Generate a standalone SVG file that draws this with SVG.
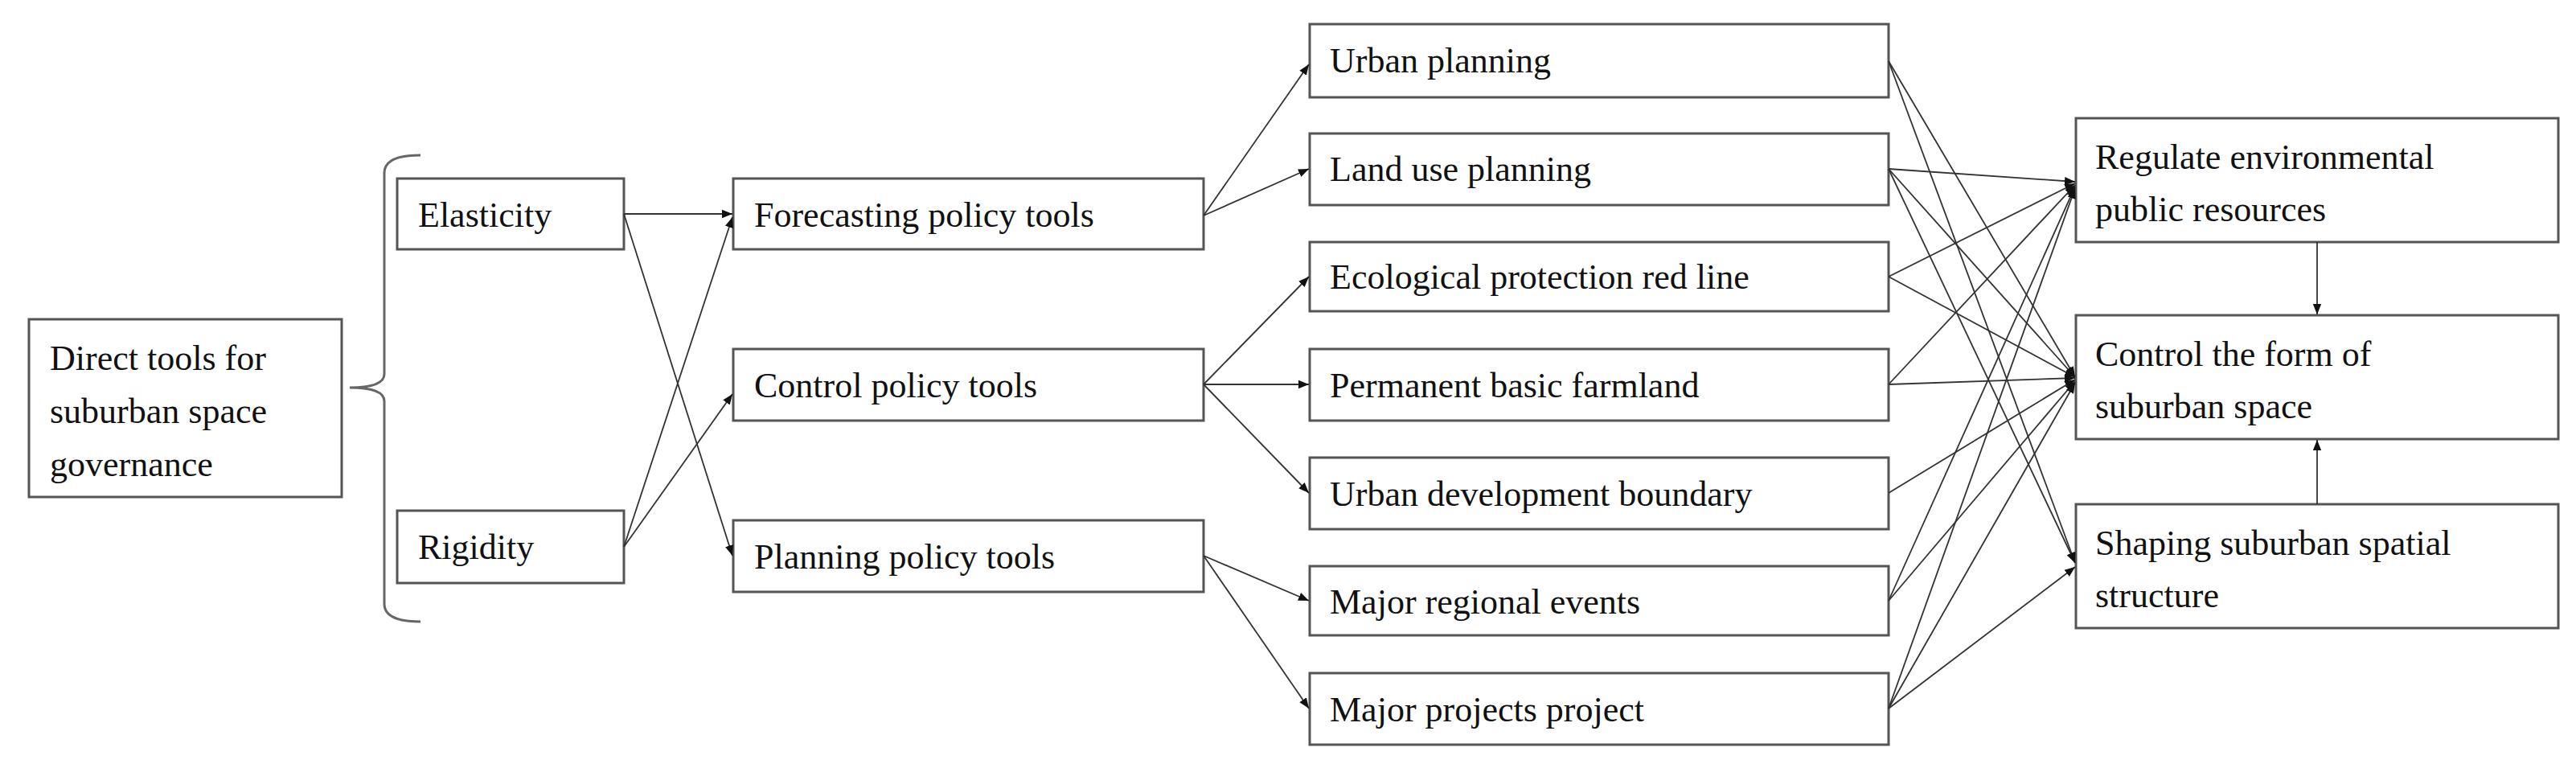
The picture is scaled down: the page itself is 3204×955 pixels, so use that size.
<svg xmlns="http://www.w3.org/2000/svg" width="3204" height="955" viewBox="0 0 3204 955">
<style>
rect{fill:#fff;stroke:#555;stroke-width:3}
text{font-family:"Liberation Serif",serif;font-size:44px;fill:#111}
.c line{stroke:#333;stroke-width:1.8;marker-end:url(#a)}
</style>
<defs><marker id="a" viewBox="0 0 10 10" refX="10" refY="5" markerWidth="13" markerHeight="13" markerUnits="userSpaceOnUse" orient="auto"><path d="M0,1L10,5L0,9z" fill="#111"/></marker>
<marker id="b" viewBox="0 0 10 10" refX="10" refY="5" markerWidth="18" markerHeight="18" markerUnits="userSpaceOnUse" orient="auto"><path d="M0,0L10,5L0,10z" fill="#111"/></marker></defs>
<rect width="3204" height="955" style="fill:#fff;stroke:none"/>
<g id="direct"><rect x="36" y="397" width="389" height="221"/><text x="62" y="460">Direct tools for</text><text x="62" y="526">suburban space</text><text x="62" y="592">governance</text></g>
<path d="M523,193 Q478,193 478,215 L478,465 Q478,482 435,482 Q478,482 478,499 L478,751 Q478,773 523,773" fill="none" stroke="#666" stroke-width="3"/>
<g id="elasticity"><rect x="494" y="222" width="282" height="88"/><text x="520" y="282">Elasticity</text></g>
<g id="rigidity"><rect x="494" y="635" width="282" height="90"/><text x="520" y="695">Rigidity</text></g>
<g id="forecasting"><rect x="912" y="222" width="585" height="88"/><text x="938" y="282">Forecasting policy tools</text></g>
<g id="controlp"><rect x="912" y="434" width="585" height="89"/><text x="938" y="494">Control policy tools</text></g>
<g id="planning"><rect x="912" y="647" width="585" height="89"/><text x="938" y="707">Planning policy tools</text></g>
<g id="up"><rect x="1629" y="30" width="720" height="91"/><text x="1654" y="90">Urban planning</text></g>
<g id="lu"><rect x="1629" y="166" width="720" height="89"/><text x="1654" y="225">Land use planning</text></g>
<g id="eco"><rect x="1629" y="301" width="720" height="86"/><text x="1654" y="359">Ecological protection red line</text></g>
<g id="perm"><rect x="1629" y="434" width="720" height="89"/><text x="1654" y="494">Permanent basic farmland</text></g>
<g id="udb"><rect x="1629" y="569" width="720" height="89"/><text x="1654" y="629">Urban development boundary</text></g>
<g id="mre"><rect x="1629" y="704" width="720" height="86"/><text x="1654" y="763">Major regional events</text></g>
<g id="mpp"><rect x="1629" y="837" width="720" height="89"/><text x="1654" y="897">Major projects project</text></g>
<g id="reg"><rect x="2582" y="147" width="600" height="154"/><text x="2606" y="210">Regulate environmental</text><text x="2606" y="275">public resources</text></g>
<g id="form"><rect x="2582" y="392" width="600" height="154"/><text x="2606" y="455">Control the form of</text><text x="2606" y="520">suburban space</text></g>
<g id="shape"><rect x="2582" y="627" width="600" height="154"/><text x="2606" y="690">Shaping suburban spatial</text><text x="2606" y="755">structure</text></g>
<g class="c" id="connectors">
<line x1="776" y1="266" x2="911" y2="266" marker-end="url(#b)"/>
<line x1="776" y1="266" x2="911" y2="691"/>
<line x1="776" y1="680" x2="911" y2="270"/>
<line x1="776" y1="680" x2="911" y2="490"/>
<line x1="1497" y1="268" x2="1628" y2="80"/>
<line x1="1497" y1="268" x2="1628" y2="210"/>
<line x1="1497" y1="478" x2="1628" y2="344"/>
<line x1="1497" y1="478" x2="1628" y2="478"/>
<line x1="1497" y1="478" x2="1628" y2="613"/>
<line x1="1497" y1="691" x2="1628" y2="747"/>
<line x1="1497" y1="691" x2="1628" y2="881"/>
<line x1="2349" y1="76" x2="2581" y2="469"/>
<line x1="2349" y1="76" x2="2581" y2="700"/>
<line x1="2349" y1="210" x2="2581" y2="226"/>
<line x1="2349" y1="210" x2="2581" y2="469"/>
<line x1="2349" y1="210" x2="2581" y2="700"/>
<line x1="2349" y1="344" x2="2581" y2="228"/>
<line x1="2349" y1="344" x2="2581" y2="469"/>
<line x1="2349" y1="478" x2="2581" y2="230"/>
<line x1="2349" y1="478" x2="2581" y2="470"/>
<line x1="2349" y1="613" x2="2581" y2="472"/>
<line x1="2349" y1="747" x2="2581" y2="232"/>
<line x1="2349" y1="747" x2="2581" y2="474"/>
<line x1="2349" y1="881" x2="2581" y2="234"/>
<line x1="2349" y1="881" x2="2581" y2="476"/>
<line x1="2349" y1="881" x2="2581" y2="705"/>
<line x1="2882" y1="301" x2="2882" y2="391"/>
<line x1="2882" y1="627" x2="2882" y2="547"/>
</g>
</svg>
